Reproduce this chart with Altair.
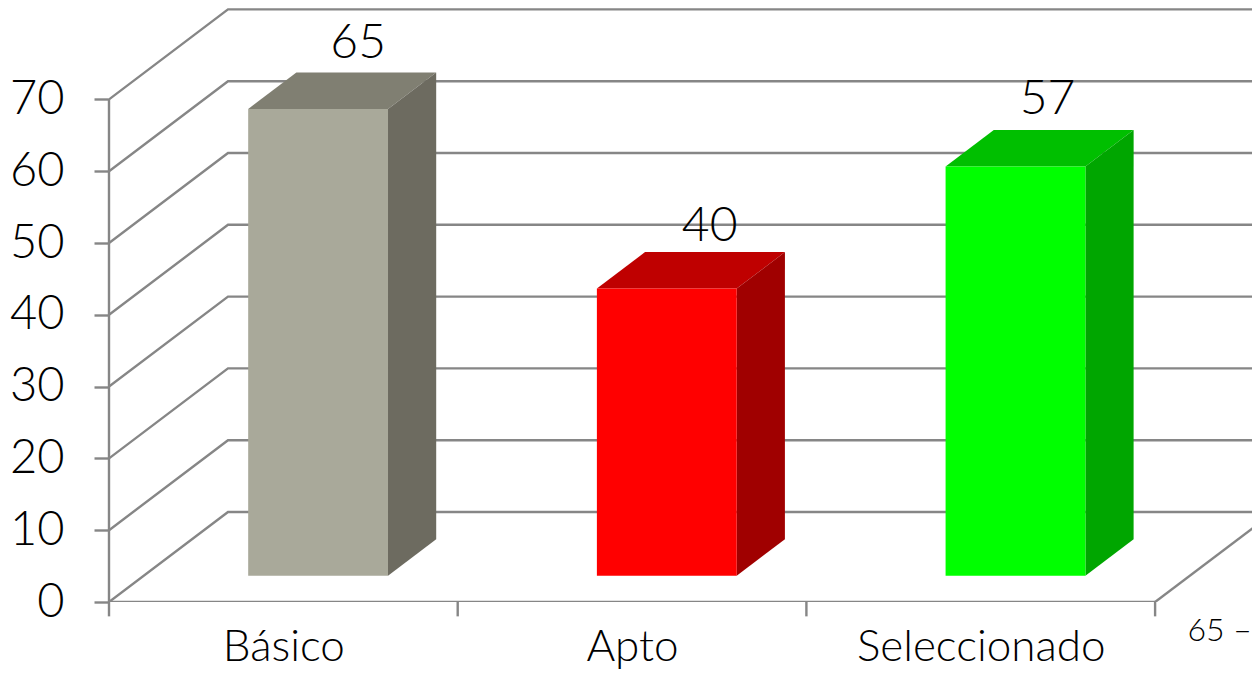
import altair as alt
import pandas as pd

categories = ["Básico", "Apto", "Seleccionado"]
values = [65, 40, 57]
front_colors = ["#A9A99A", "#FF0000", "#00FF00"]
top_colors = ["#807F72", "#BF0000", "#00BF00"]
side_colors = ["#6D6B60", "#A00000", "#00A600"]
y_ticks = [0, 10, 20, 30, 40, 50, 60, 70]
x_ticks = [0, 1, 2, 3]
label_shift_x = [0.115, 0.123, 0.092]
label_shift_y = [9.05, 8.6, 9.3]

LINE = "#868686"
FONT = "Lato"
PX_X, PX_Y = 348.7, 7.18          # pixels per category / per value unit
DX, DY = 119 / PX_X, 90 / PX_Y    # full depth of the box, in data units
X_MAX, Y_MAX = 1143 / PX_X, 594 / PX_Y
BAR_W, D0, D1 = 0.401, 0.292, 0.697

xs = alt.Scale(domain=[0, X_MAX], nice=False, zero=False)
ys = alt.Scale(domain=[0, Y_MAX], nice=False, zero=False)

grid = pd.DataFrame([
    r for v in y_ticks for r in (
        {"g": v, "x": 0, "y": v},
        {"g": v, "x": DX, "y": v + DY},
        {"g": v, "x": X_MAX, "y": v + DY},
    )
])
grid_layer = alt.Chart(grid).mark_line(color=LINE, strokeWidth=2.4, clip=True).encode(
    x=alt.X("x:Q", scale=xs,
            axis=alt.Axis(values=[0.5, 1.5, 2.5], title=None, domain=False, ticks=False, grid=False,
                          labelExpr="['Básico','Apto','Seleccionado'][floor(datum.value)]",
                          labelFontSize=44, labelFont=FONT, labelFontWeight=300, labelColor="#000000",
                          labelPadding=45, labelBaseline="middle", labelAngle=0, labelLimit=500)),
    y=alt.Y("y:Q", scale=ys,
            axis=alt.Axis(values=y_ticks, title=None, domain=False, grid=False, tickSize=15,
                          tickColor=LINE, tickWidth=2.4, labelFontSize=47, labelFont=FONT,
                          labelFontWeight=300, labelColor="#000000", labelPadding=30)),
    detail="g:N",
)

edges = pd.DataFrame([
    {"g": "floor_front", "x": 0, "y": 0},
    {"g": "floor_front", "x": 3, "y": 0},
    {"g": "floor_right", "x": 3, "y": 0},
    {"g": "floor_right", "x": 3 + DX, "y": DY},
])
edge_layer = alt.Chart(edges).mark_line(color=LINE, strokeWidth=2.4, clip=True).encode(
    x=alt.X("x:Q", scale=xs), y=alt.Y("y:Q", scale=ys), detail="g:N"
)

rules = pd.DataFrame(
    [{"x": t, "y": -2.0, "y2": 0} for t in x_ticks] + [{"x": 0, "y": 0, "y2": 70}]
)
rule_layer = alt.Chart(rules).mark_rule(color=LINE, strokeWidth=2.4).encode(
    x=alt.X("x:Q", scale=xs), y=alt.Y("y:Q", scale=ys), y2="y2:Q"
)

front_rows, side_rows, top_rows, label_rows = [], [], [], []
for i, (c, v) in enumerate(zip(categories, values)):
    left = i + 0.5 + D0 * DX - BAR_W / 2
    right = left + BAR_W
    base0, base1 = D0 * DY, D1 * DY
    off = (D1 - D0) * DX
    front_rows.append({"c": c, "x": left, "x2": right, "y": base0, "y2": base0 + v, "f": front_colors[i]})
    side_rows += [
        {"c": c, "x": right, "y": base0, "y2": base0 + v, "f": side_colors[i]},
        {"c": c, "x": right + off, "y": base1, "y2": base1 + v, "f": side_colors[i]},
    ]
    top_rows += [
        {"c": c, "x": left, "x2": right, "y": base0 + v, "f": top_colors[i]},
        {"c": c, "x": left + off, "x2": right + off, "y": base1 + v, "f": top_colors[i]},
    ]
    label_rows.append({"x": i + 0.5 + D0 * DX + label_shift_x[i], "y": base0 + v + label_shift_y[i], "t": str(v)})

fill = alt.Color("f:N", scale=None)
front_layer = alt.Chart(pd.DataFrame(front_rows)).mark_rect().encode(
    x=alt.X("x:Q", scale=xs), x2="x2:Q", y=alt.Y("y:Q", scale=ys), y2="y2:Q", color=fill
)
side_layer = alt.Chart(pd.DataFrame(side_rows)).mark_area(orient="vertical").encode(
    x=alt.X("x:Q", scale=xs), y=alt.Y("y:Q", scale=ys), y2="y2:Q", color=fill, detail="c:N"
)
top_layer = alt.Chart(pd.DataFrame(top_rows)).mark_area(orient="horizontal").encode(
    y=alt.Y("y:Q", scale=ys), x=alt.X("x:Q", scale=xs), x2="x2:Q", color=fill, detail="c:N"
)
label_layer = alt.Chart(pd.DataFrame(label_rows)).mark_text(
    fontSize=48, font=FONT, fontWeight=300, color="#000000", baseline="middle", align="center"
).encode(x=alt.X("x:Q", scale=xs), y=alt.Y("y:Q", scale=ys), text="t:N")

note_layer = alt.Chart(pd.DataFrame([{"x": 3.185, "y": -4.0, "t": "65 –"}])).mark_text(
    fontSize=32, font=FONT, fontWeight=300, color="#000000", baseline="middle", align="center"
).encode(x=alt.X("x:Q", scale=xs), y=alt.Y("y:Q", scale=ys), text="t:N")

chart = alt.layer(
    grid_layer, edge_layer, rule_layer, top_layer, side_layer, front_layer, label_layer, note_layer
).properties(
    width=1143, height=594,
    padding={"left": 101, "top": 0, "right": 0, "bottom": 70},
    autosize=alt.AutoSizeParams(type="none"),
).configure_view(stroke=None)

chart.save("out.html", embed_options={"renderer": "svg", "actions": False})
